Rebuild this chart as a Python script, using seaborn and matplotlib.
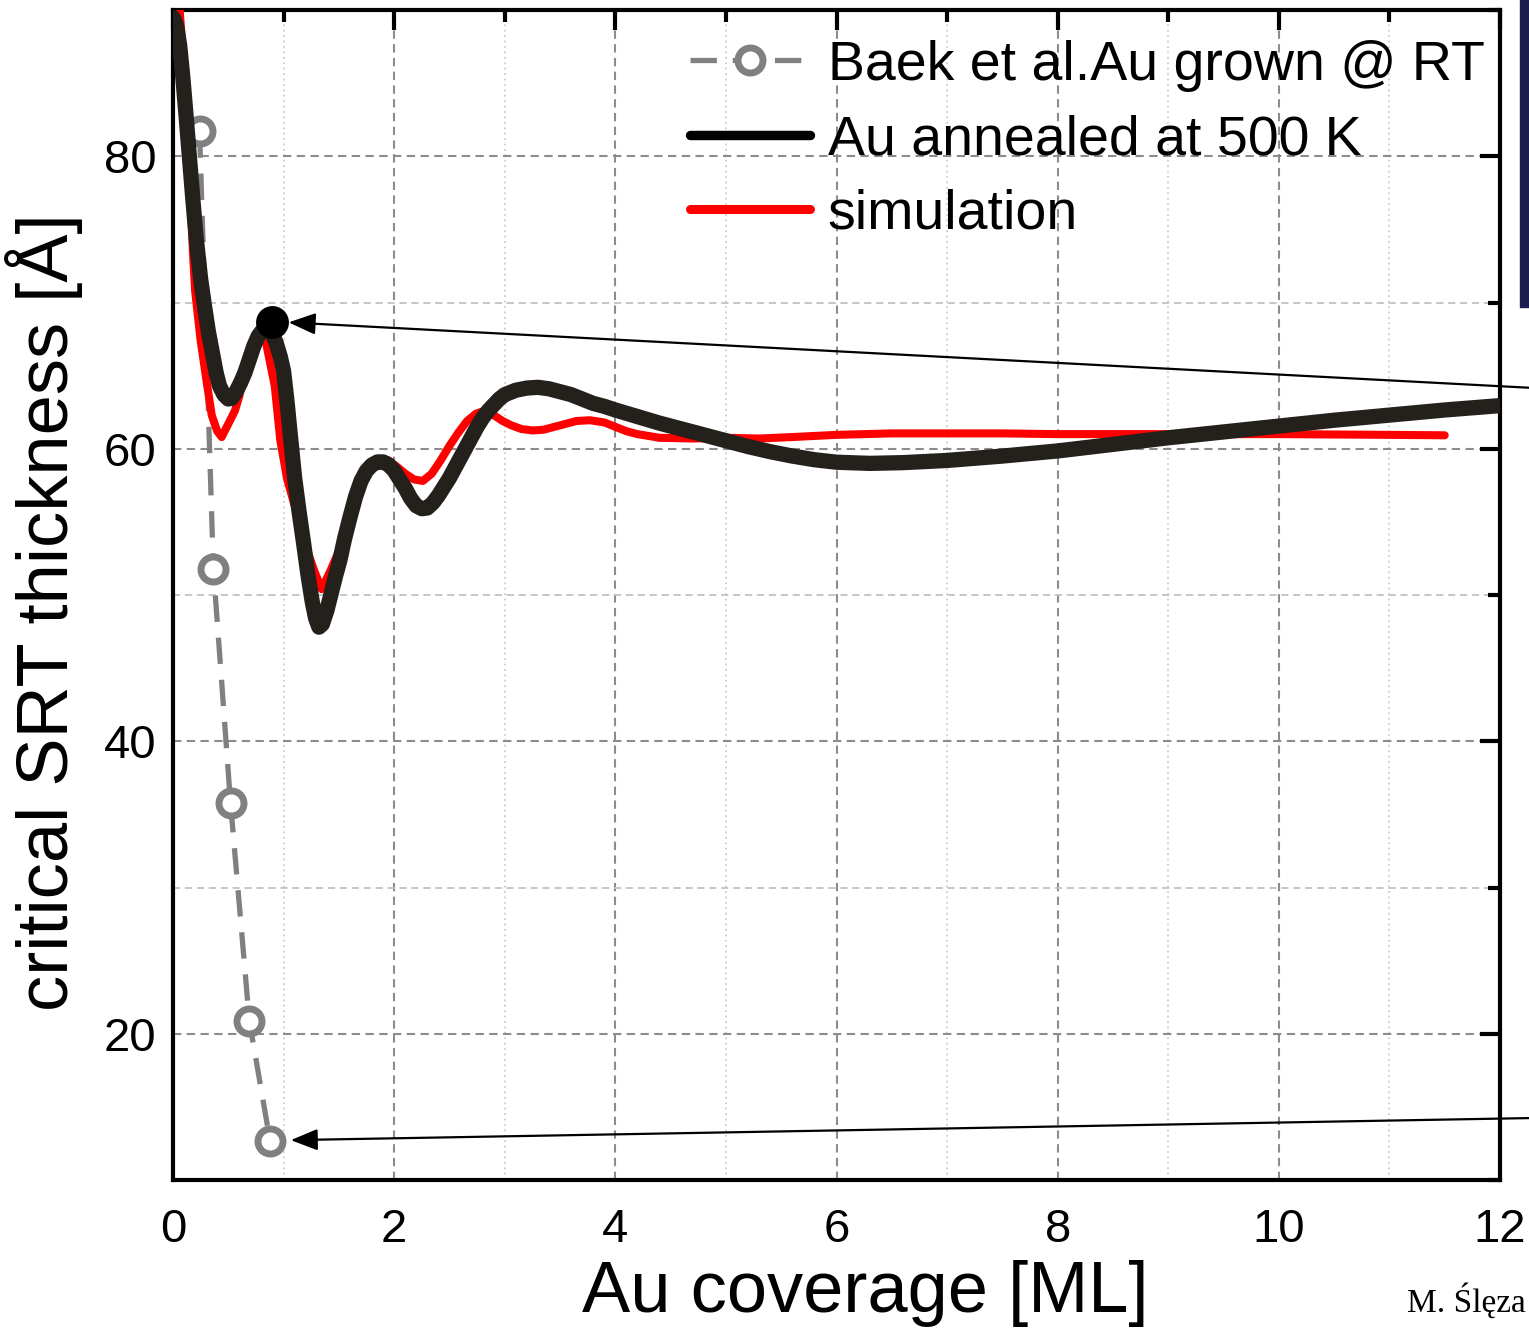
import numpy as np
import pandas as pd
import matplotlib
matplotlib.use("Agg")
import matplotlib.pyplot as plt
import seaborn as sns
from matplotlib.patches import Rectangle
from matplotlib.ticker import MultipleLocator

# ---------------- data ----------------
baek_label = "Baek et al.Au grown @ RT"
baek_x = [0.24, 0.365, 0.52, 0.69, 0.877]
baek_y = [81.7, 51.8, 35.8, 20.9, 12.7]

anneal_label = "Au annealed at 500 K"
anneal_x = [0.00, 0.03, 0.06, 0.09, 0.12, 0.15, 0.18, 0.21, 0.25, 0.28, 0.32, 0.35,
            0.39, 0.42, 0.46, 0.50, 0.53, 0.57, 0.61, 0.65, 0.69, 0.73, 0.77, 0.81,
            0.85, 0.89, 0.93, 0.97, 1.00, 1.03, 1.06, 1.10, 1.14, 1.18, 1.22, 1.26,
            1.29, 1.32, 1.35, 1.39, 1.43, 1.47, 1.51, 1.55, 1.60, 1.65, 1.70, 1.75,
            1.80, 1.85, 1.90, 1.95, 2.00, 2.05, 2.10, 2.15, 2.20, 2.25, 2.30, 2.35,
            2.40, 2.45, 2.50, 2.55, 2.60, 2.65, 2.70, 2.75, 2.80, 2.85, 2.90, 2.95,
            3.00, 3.10, 3.20, 3.30, 3.40, 3.50, 3.60, 3.70, 3.80, 3.90, 4.00, 4.20,
            4.40, 4.60, 4.80, 5.00, 5.20, 5.40, 5.60, 5.80, 6.00, 6.30, 6.60, 7.00,
            7.50, 8.00, 8.50, 9.00, 9.50, 10.00, 10.50, 11.00, 11.50, 12.00]
anneal_y = [89.5, 89.0, 87.6, 85.3, 82.6, 79.8, 77.0, 74.4, 71.6, 70.0, 68.0, 66.8,
            65.2, 64.3, 63.7, 63.4, 63.45, 63.9, 64.5, 65.2, 66.1, 67.0, 67.7, 68.1,
            68.2, 68.0, 67.3, 66.3, 65.3, 63.3, 61.0, 58.0, 55.7, 53.6, 51.4, 49.5,
            48.4, 47.8, 48.0, 48.9, 50.1, 51.3, 52.4, 53.8, 55.3, 56.7, 57.8, 58.5,
            58.9, 59.1, 59.1, 58.9, 58.5, 57.9, 57.3, 56.6, 56.1, 55.9, 55.95, 56.3,
            56.8, 57.4, 58.0, 58.7, 59.4, 60.1, 60.8, 61.5, 62.1, 62.6, 63.0, 63.4,
            63.7, 64.0, 64.15, 64.2, 64.1, 63.9, 63.7, 63.4, 63.1, 62.9, 62.65, 62.2,
            61.75, 61.35, 60.95, 60.55, 60.15, 59.8, 59.5, 59.25, 59.08, 59.0, 59.05, 59.2,
            59.5, 59.85, 60.3, 60.75, 61.15, 61.55, 61.95, 62.3, 62.65, 62.95]

sim_label = "simulation"
sim_x = [0.05, 0.08, 0.11, 0.14, 0.16, 0.18, 0.20, 0.25, 0.30, 0.35, 0.40, 0.44,
         0.48, 0.52, 0.56, 0.60, 0.64, 0.68, 0.72, 0.76, 0.80, 0.84, 0.88, 0.92,
         0.97, 1.03, 1.10, 1.16, 1.22, 1.28, 1.344, 1.42, 1.50, 1.60, 1.70, 1.80,
         1.89, 1.95, 2.02, 2.10, 2.18, 2.26, 2.34, 2.42, 2.50, 2.58, 2.66, 2.74,
         2.82, 2.90, 2.98, 3.06, 3.15, 3.25, 3.35, 3.45, 3.55, 3.65, 3.77, 3.90,
         4.00, 4.10, 4.20, 4.40, 4.70, 5.00, 5.30, 5.60, 6.00, 6.50, 7.00, 7.50,
         8.00, 9.00, 10.00, 11.00, 11.50]
sim_y = [91.0, 88.0, 84.5, 80.5, 77.0, 73.5, 70.8, 67.4, 64.8, 62.3, 61.2, 60.8,
         61.4, 62.0, 62.6, 63.6, 65.0, 66.2, 67.1, 67.6, 67.8, 67.3, 65.8, 64.3,
         60.6, 58.0, 56.1, 54.6, 52.9, 51.6, 50.4, 51.6, 53.0, 55.5, 57.7, 58.9,
         59.3, 59.2, 58.8, 58.3, 57.9, 57.8, 58.3, 59.2, 60.2, 61.1, 61.9, 62.4,
         62.6, 62.3, 61.9, 61.6, 61.35, 61.25, 61.3, 61.5, 61.7, 61.9, 61.95, 61.8,
         61.5, 61.2, 61.0, 60.75, 60.7, 60.75, 60.7, 60.8, 60.95, 61.05, 61.05, 61.05,
         61.0, 61.0, 61.0, 60.95, 60.92]

marked_x = [0.895]
marked_y = [68.7]

x_ticks = [0, 2, 4, 6, 8, 10, 12]
y_ticks = [20, 40, 60, 80]
x_label = "Au coverage [ML]"
y_label = "critical SRT thickness [Å]"
credit = "M. Ślęza"

# ---------------- style ----------------
sns.set_theme(style="white")
plt.rcParams['font.family'] = ['Liberation Sans', 'DejaVu Sans']
plt.rcParams['text.color'] = 'black'
plt.rcParams['axes.labelcolor'] = 'black'
plt.rcParams['xtick.color'] = 'black'
plt.rcParams['ytick.color'] = 'black'

W, H = 1529, 1328
fig = plt.figure(figsize=(W / 100, H / 100), dpi=100)
ax = fig.add_axes([173 / W, 1 - 1180 / H, (1500 - 173) / W, (1180 - 10) / H])

ax.set_xlim(0, 12)
ax.set_ylim(10, 90)
ax.set_axisbelow(True)

# grid
ax.xaxis.set_major_locator(MultipleLocator(2))
ax.xaxis.set_minor_locator(MultipleLocator(1))
ax.yaxis.set_major_locator(MultipleLocator(20))
ax.yaxis.set_minor_locator(MultipleLocator(10))
ax.grid(which='major', color='#8c8c8c', linestyle=(0, (4, 2.6)), linewidth=1.5)
ax.xaxis.grid(which='minor', color='#cccccc', linestyle=(0, (1, 2)), linewidth=1.3)
ax.yaxis.grid(which='minor', color='#c2c2c2', linestyle=(0, (4, 2.6)), linewidth=1.3)

# series
sns.lineplot(x=baek_x, y=baek_y, ax=ax, sort=False, estimator=None,
             color='#808080', linewidth=3.8, linestyle=(0, (5, 3)),
             marker='o', markersize=18, markerfacecolor='white',
             markeredgecolor='#808080', markeredgewidth=5,
             label=baek_label, zorder=2)
sns.lineplot(x=sim_x, y=sim_y, ax=ax, sort=False, estimator=None,
             color='#ff0000', linewidth=5.8, label=sim_label, zorder=3)
sns.lineplot(x=anneal_x, y=anneal_y, ax=ax, sort=False, estimator=None,
             color='#24201c', linewidth=11, label=anneal_label, zorder=4,
             solid_capstyle='round', solid_joinstyle='round')
sns.scatterplot(x=marked_x, y=marked_y, ax=ax, s=480, color='black',
                edgecolor='black', zorder=5, legend=False)

# ticks & spines
ax.set_xticks(x_ticks)
ax.set_yticks(y_ticks)
ax.tick_params(which='major', direction='in', length=14.5, width=3, top=True,
               right=True, labelsize=34, colors='black', pad=12)
ax.tick_params(which='minor', direction='in', length=8.5, width=3, top=True,
               right=True)
ax.tick_params(axis='x', which='major', pad=20)
for s in ax.spines.values():
    s.set_linewidth(3)
    s.set_color('black')

ax.set_xlabel(x_label, fontsize=52)
ax.set_ylabel(y_label, fontsize=52)
ax.xaxis.set_label_coords(0.5215, -0.068)
ax.yaxis.set_label_coords(-0.068, 0.4855)

# legend
handles, labels = ax.get_legend_handles_labels()
order = [labels.index(baek_label), labels.index(anneal_label), labels.index(sim_label)]
leg = ax.legend([handles[i] for i in order], [labels[i] for i in order],
                loc='upper left', bbox_to_anchor=((690 - 173) / 1327, 0.9745),
                frameon=False, fontsize=40, handlelength=2.16, handletextpad=0.32,
                labelspacing=0.40, borderaxespad=0, borderpad=0, numpoints=1)
lh = leg.legend_handles
lh[1].set_linewidth(6.8)
lh[1].set_color('black')
lh[2].set_linewidth(6.5)

# arrows
ax.annotate('', xy=(marked_x[0], marked_y[0]), xytext=(W + 5, H - 388),
            textcoords='figure pixels', annotation_clip=False,
            arrowprops=dict(arrowstyle='-|>,head_length=0.55,head_width=0.22',
                            color='black', lw=1.6, mutation_scale=30,
                            shrinkA=0, shrinkB=12))
ax.annotate('', xy=(baek_x[-1], baek_y[-1]), xytext=(W + 5, H - 1118),
            textcoords='figure pixels', annotation_clip=False,
            arrowprops=dict(arrowstyle='-|>,head_length=0.55,head_width=0.22',
                            color='black', lw=1.6, mutation_scale=30,
                            shrinkA=0, shrinkB=15))

# decorations from the slide
fig.add_artist(Rectangle((1520 / W, 1 - 307 / H), 20 / W, 307 / H,
                         transform=fig.transFigure, color='#1c1c4e', zorder=10))
fig.text(1526 / W, 1 - 1312 / H, credit, fontsize=24, va='baseline', ha='right',
         family=['Liberation Serif', 'DejaVu Serif'])

fig.savefig('out.png', dpi=100)
